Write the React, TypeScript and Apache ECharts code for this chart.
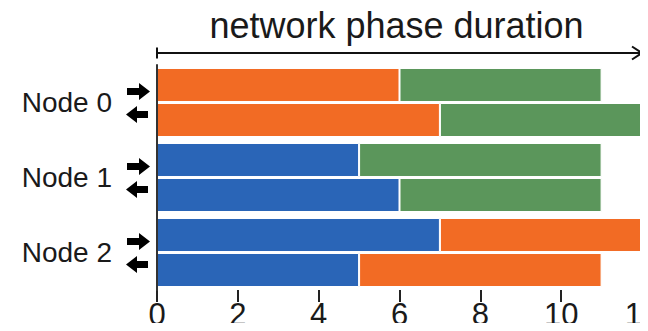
import React, { useEffect, useRef } from "react";
import * as echarts from "echarts";

const categories = ["Node 0", "Node 1", "Node 2"];
// send (→) bars: first and second phase durations
const sendFirst = [6, 5, 7];
const sendSecond = [5, 6, 5];
// receive (←) bars
const recvFirst = [7, 6, 5];
const recvSecond = [5, 5, 6];
// phase of each segment
const sendFirstPhase = ["orange", "blue", "blue"];
const sendSecondPhase = ["green", "green", "orange"];
const recvFirstPhase = ["orange", "blue", "blue"];
const recvSecondPhase = ["green", "green", "orange"];

const xMin = 0;
const xMax = 12;
const xInterval = 2;
const title = "network phase duration";

const COLORS: Record<string, string> = {
  orange: "#F26B24",
  green: "#5B965B",
  blue: "#2A65B7",
};

const FONT = "'Liberation Sans', Helvetica, Arial, sans-serif";

function mk(name: string, stack: string, vals: number[], phases: string[]) {
  return {
    name,
    type: "bar",
    stack,
    barWidth: 34,
    barGap: "3%",
    data: vals.map((v, i) => ({
      value: v,
      itemStyle: { color: COLORS[phases[i]] },
    })),
    itemStyle: { borderColor: "#ffffff", borderWidth: 1 },
  };
}

export default function App() {
  const ref = useRef<HTMLDivElement>(null);
  useEffect(() => {
    if (!ref.current) return;
    const chart = echarts.init(ref.current, undefined, { renderer: "svg" });
    const gridLeft = 157;
    const gridRight = 6;
    const gridTop = 65;
    const gridBottom = 41;
    const series: any[] = [
      mk("send1", "send", sendFirst, sendFirstPhase),
      mk("send2", "send", sendSecond, sendSecondPhase),
      mk("recv1", "recv", recvFirst, recvFirstPhase),
      mk("recv2", "recv", recvSecond, recvSecondPhase),
    ];
    series[0].markLine = {
      silent: true,
      symbol: ["none", "none"],
      label: { show: false },
      lineStyle: { color: "#111", width: 2, type: "solid" },
      data: [{ xAxis: xMax }],
    };
    chart.setOption({
      animation: false,
      grid: {
        left: gridLeft,
        right: gridRight,
        top: gridTop,
        bottom: gridBottom,
        containLabel: false,
        outerBoundsMode: "none",
      },
      xAxis: {
        type: "value",
        min: xMin,
        max: xMax,
        interval: xInterval,
        axisLine: { show: false },
        axisTick: { show: true, length: 12, lineStyle: { color: "#222", width: 2 } },
        splitLine: { show: false },
        axisLabel: {
          fontSize: 31,
          fontFamily: FONT,
          color: "#1a1a1a",
          margin: 9,
          showMaxLabel: true,
          showMinLabel: true,
        },
      },
      yAxis: {
        type: "category",
        inverse: true,
        data: categories,
        z: 5,
        axisLine: { show: true, lineStyle: { color: "#333", width: 2 } },
        axisTick: { show: false },
        axisLabel: {
          fontSize: 28,
          fontFamily: FONT,
          color: "#1a1a1a",
          margin: 45,
        },
      },
      series,
    });

    const x0 = chart.convertToPixel({ xAxisIndex: 0 }, xMin) as number;
    const x1 = chart.convertToPixel({ xAxisIndex: 0 }, xMax) as number;
    const graphics: any[] = [];
    const lineY = 53;
    graphics.push({
      type: "text",
      x: (x0 + x1) / 2 - 3,
      y: 7,
      style: {
        text: title,
        fontSize: 36,
        fontFamily: FONT,
        fill: "#1a1a1a",
        textAlign: "center",
        textVerticalAlign: "top",
      },
    });
    graphics.push({
      type: "line",
      shape: { x1: x0, y1: lineY, x2: x1, y2: lineY },
      style: { stroke: "#111", lineWidth: 2 },
    });
    graphics.push({
      type: "line",
      shape: { x1: x0, y1: lineY - 5.5, x2: x0, y2: lineY + 5.5 },
      style: { stroke: "#111", lineWidth: 2 },
    });
    graphics.push({
      type: "polyline",
      shape: { points: [[x1 - 10, lineY - 6.5], [x1, lineY], [x1 - 10, lineY + 6.5]] },
      style: { stroke: "#111", lineWidth: 2, fill: null },
    });
    categories.forEach((c) => {
      const cy = chart.convertToPixel({ yAxisIndex: 0 }, c) as number;
      const ry = cy - 11;
      const ly = cy + 12;
      graphics.push({
        type: "polygon",
        shape: {
          points: [
            [127, ry - 3.5], [139, ry - 3.5], [139, ry - 8.5], [150, ry],
            [139, ry + 8.5], [139, ry + 3.5], [127, ry + 3.5],
          ],
        },
        style: { fill: "#000" },
      });
      graphics.push({
        type: "polygon",
        shape: {
          points: [
            [148, ly - 3.5], [137, ly - 3.5], [137, ly - 8.5], [126, ly],
            [137, ly + 8.5], [137, ly + 3.5], [148, ly + 3.5],
          ],
        },
        style: { fill: "#000" },
      });
    });
    chart.setOption({ graphic: graphics });
    return () => chart.dispose();
  }, []);
  return <div ref={ref} style={{ width: 648, height: 331, margin: -8 }} />;
}
